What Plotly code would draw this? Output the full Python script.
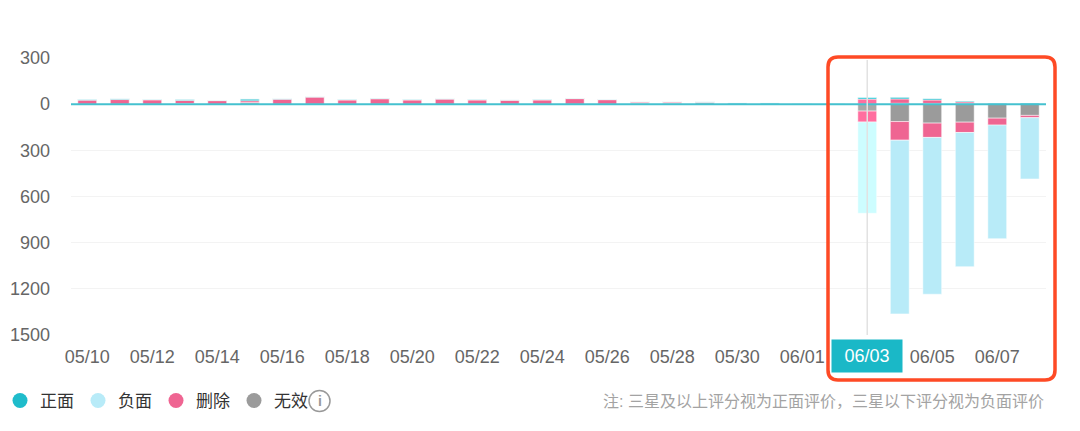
import plotly.graph_objects as go

# 日期 05/10 - 06/08
dates = ['05/10', '05/11', '05/12', '05/13', '05/14', '05/15', '05/16', '05/17',
         '05/18', '05/19', '05/20', '05/21', '05/22', '05/23', '05/24', '05/25',
         '05/26', '05/27', '05/28', '05/29', '05/30', '05/31', '06/01', '06/02',
         '06/03', '06/04', '06/05', '06/06', '06/07', '06/08']

# 正向（零线以上）
pos_invalid = [0, 0, 0, 4, 0, 10, 0, 0, 0, 0, 0, 0, 0, 0, 0, 0,
               0, 8, 8, 10, 0, 0, 0, 0, 0, 6, 5, 5, 0, 0]
pos_deleted = [26, 30, 28, 20, 23, 12, 32, 46, 27, 35, 27, 33, 27, 26, 27, 36,
               29, 6, 6, 3, 0, 0, 0, 0, 33, 28, 22, 10, 0, 0]
positive = [6, 6, 4, 8, 3, 12, 4, 3, 5, 4, 5, 3, 5, 2, 5, 3,
            3, 3, 3, 4, 8, 8, 5, 5, 10, 10, 8, 5, 5, 6]

# 负向（零线以下）
neg_invalid = [0] * 24 + [45, 113, 123, 117, 91, 73]
neg_deleted = [0] * 24 + [71, 121, 93, 67, 45, 15]
negative = [0] * 24 + [593, 1129, 1019, 872, 738, 398]

hover_day = '06/03'

C_POS = '#1fbccb'
C_NEG = '#b8ebf8'
C_DEL = '#ef6592'
C_INV = '#9b9b9b'

FONT = 'Liberation Sans, Noto Sans CJK SC, sans-serif'


def colors(base, hi):
    return [hi if d == hover_day else base for d in dates]


fig = go.Figure()

bars = [
    (neg_invalid, -1, C_INV, '#a8a8a8'),
    (pos_invalid, 1, C_INV, '#a8a8a8'),
    (neg_deleted, -1, C_DEL, '#ff6e9f'),
    (pos_deleted, 1, C_DEL, '#ff6e9f'),
    (positive, 1, C_POS, '#22c8d6'),
    (negative, -1, C_NEG, '#cdfdff'),
]
for vals, sign, base, hi in bars:
    fig.add_trace(go.Bar(
        x=dates, y=[sign * v for v in vals],
        marker=dict(color=colors(base, hi), line=dict(color='rgba(255,255,255,0.5)', width=1)),
        width=0.58, showlegend=False, hoverinfo='skip'))

# 图例
for name, c in [('正面', C_POS), ('负面', C_NEG), ('删除', C_DEL), ('无效', C_INV)]:
    fig.add_trace(go.Scatter(x=[None], y=[None], mode='markers', name=name,
                             marker=dict(color=c, size=15, symbol='circle')))

# 页面 body 有 8px 边距，图放小一点
OFF = 8
W, H = 1080 - 2 * OFF, 431 - 2 * OFF

# 绘图区在截图中的像素位置
L, R, T, B = 71, 1046, 58, 335


def px(x):
    return (x - L) / (R - L)


def py(y):
    return (B - y) / (B - T)


# 红色圆角框
x0, x1, y0, y1 = px(828), px(1055), py(380), py(57)
rx, ry = 10 / (R - L), 10 / (B - T)
path = (f'M {x0+rx},{y1} L {x1-rx},{y1} Q {x1},{y1} {x1},{y1-ry} '
        f'L {x1},{y0+ry} Q {x1},{y0} {x1-rx},{y0} L {x0+rx},{y0} '
        f'Q {x0},{y0} {x0},{y0+ry} L {x0},{y1-ry} Q {x0},{y1} {x0+rx},{y1} Z')

shapes = [
    dict(type='line', xref='paper', yref='y', x0=0, x1=1, y0=0, y1=0,
         line=dict(color='#45c1cf', width=2), layer='above'),
    dict(type='line', xref='x', yref='paper', x0=hover_day, x1=hover_day, y0=0, y1=py(60),
         line=dict(color='#e2e2e2', width=1.5), layer='above'),
    dict(type='path', xref='paper', yref='paper', path=path,
         line=dict(color='#fe4a25', width=3.5)),
    dict(type='circle', xref='paper', yref='paper', x0=px(309), x1=px(330), y0=py(411.5), y1=py(390.5),
         line=dict(color='#999999', width=1.5)),
]

annotations = [
    dict(xref='x', yref='paper', x=hover_day, y=py(355.5), text=hover_day, showarrow=False,
         xanchor='center', yanchor='middle',
         font=dict(family=FONT, size=18, color='white'), bgcolor='#1ab8c7',
         borderpad=6, width=58),
    dict(xref='paper', yref='paper', x=px(319.5), y=py(401), text='<b>i</b>', showarrow=False,
         xanchor='center', yanchor='middle',
         font=dict(family=FONT, size=14, color='#999999')),
    dict(xref='paper', yref='paper', x=px(1046), y=py(401), xanchor='right', yanchor='middle',
         text='注: 三星及以上评分视为正面评价，三星以下评分视为负面评价', showarrow=False,
         font=dict(family=FONT, size=16, color='#a3a3a3')),
]

yticks = [300, 0, -300, -600, -900, -1200, -1500]
xticks = dates[::2]

fig.update_layout(
    width=W, height=H,
    margin=dict(l=L - OFF, r=W - (R - OFF), t=T - OFF, b=H - (B - OFF), autoexpand=False),
    plot_bgcolor='white', paper_bgcolor='white',
    barmode='relative', bargap=0.42,
    font=dict(family=FONT, size=17, color='#666666'),
    xaxis=dict(type='category', tickvals=xticks,
               ticktext=['' if d == hover_day else d for d in xticks],
               showgrid=False, zeroline=False, showline=False,
               ticks='outside', ticklen=5, tickcolor='rgba(0,0,0,0)',
               tickfont=dict(size=18, color='#666666'), range=[-0.5, 29.5]),
    yaxis=dict(range=[-1500, 300], tickvals=yticks, ticktext=[str(abs(v)) for v in yticks],
               showgrid=True, gridcolor='#f3f3f3', zeroline=False, showline=False,
               ticklabelstandoff=20, tickfont=dict(size=18, color='#666666')),
    legend=dict(orientation='h', x=px(0), y=py(401), xanchor='left', yanchor='middle',
                bgcolor='rgba(0,0,0,0)', entrywidth=33,
                font=dict(family=FONT, size=17, color='#333333'),
                itemclick=False, itemdoubleclick=False),
    shapes=shapes, annotations=annotations,
    hovermode=False,
)

fig.write_html('out.html')
